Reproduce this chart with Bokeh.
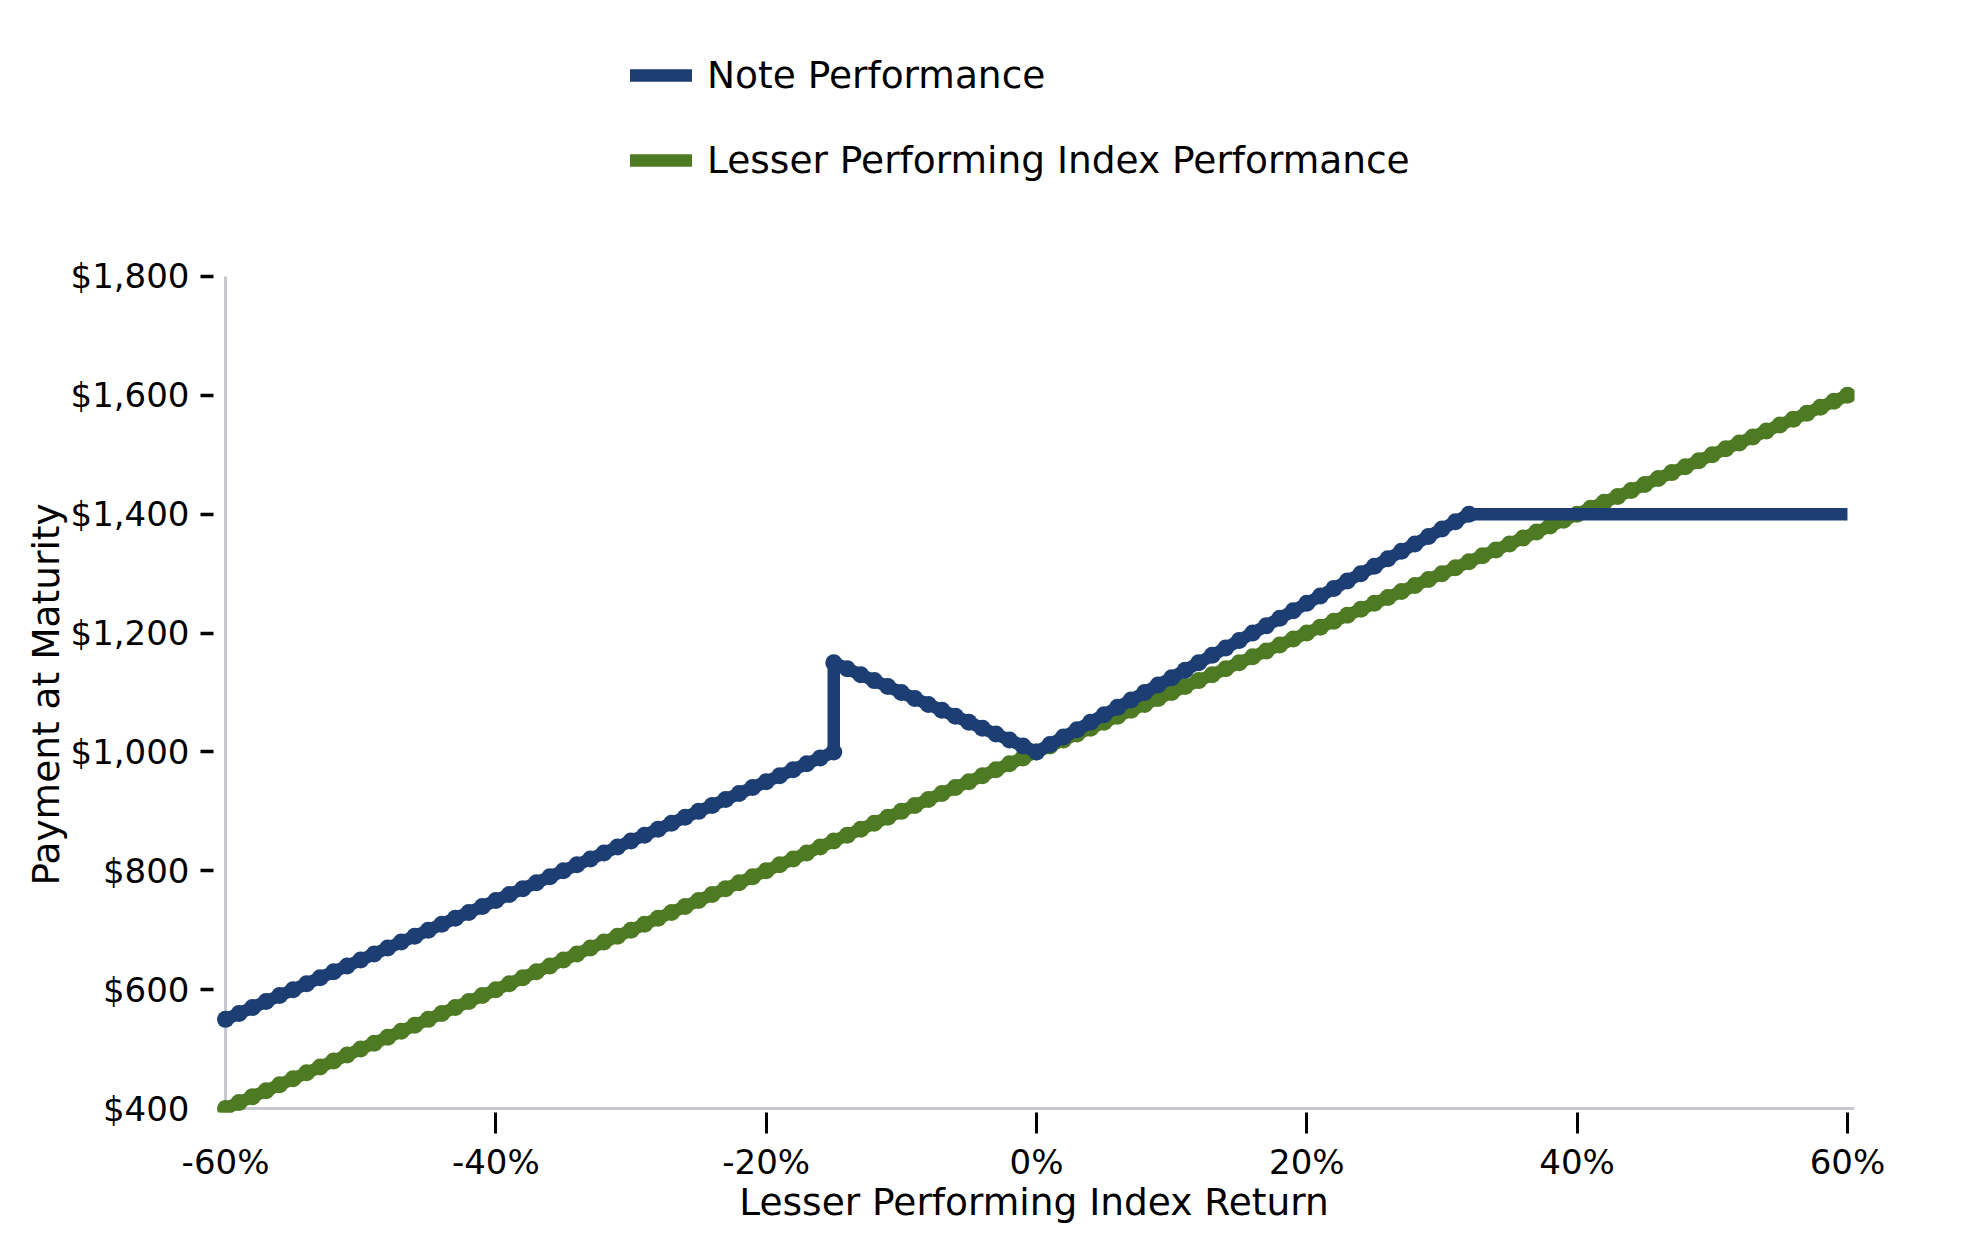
from bokeh.plotting import figure
from bokeh.models import (Range1d, FixedTicker, NumeralTickFormatter, PrintfTickFormatter,
                          Legend, LegendItem, ColumnDataSource, Title)
from bokeh.embed import file_html
from bokeh.resources import INLINE

# ---------------- data ----------------
index_return = [-60, -59, -58, -57, -56, -55, -54, -53, -52, -51, -50, -49, -48, -47, -46, -45,
                -44, -43, -42, -41, -40, -39, -38, -37, -36, -35, -34, -33, -32, -31, -30, -29,
                -28, -27, -26, -25, -24, -23, -22, -21, -20, -19, -18, -17, -16, -15, -14, -13,
                -12, -11, -10, -9, -8, -7, -6, -5, -4, -3, -2, -1, 0, 1, 2, 3, 4, 5, 6, 7, 8, 9,
                10, 11, 12, 13, 14, 15, 16, 17, 18, 19, 20, 21, 22, 23, 24, 25, 26, 27, 28, 29,
                30, 31, 32, 33, 34, 35, 36, 37, 38, 39, 40, 41, 42, 43, 44, 45, 46, 47, 48, 49,
                50, 51, 52, 53, 54, 55, 56, 57, 58, 59, 60]
index_payment = [400, 410, 420, 430, 440, 450, 460, 470, 480, 490, 500, 510, 520, 530, 540, 550,
                 560, 570, 580, 590, 600, 610, 620, 630, 640, 650, 660, 670, 680, 690, 700, 710,
                 720, 730, 740, 750, 760, 770, 780, 790, 800, 810, 820, 830, 840, 850, 860, 870,
                 880, 890, 900, 910, 920, 930, 940, 950, 960, 970, 980, 990, 1000, 1010, 1020,
                 1030, 1040, 1050, 1060, 1070, 1080, 1090, 1100, 1110, 1120, 1130, 1140, 1150,
                 1160, 1170, 1180, 1190, 1200, 1210, 1220, 1230, 1240, 1250, 1260, 1270, 1280,
                 1290, 1300, 1310, 1320, 1330, 1340, 1350, 1360, 1370, 1380, 1390, 1400, 1410,
                 1420, 1430, 1440, 1450, 1460, 1470, 1480, 1490, 1500, 1510, 1520, 1530, 1540,
                 1550, 1560, 1570, 1580, 1590, 1600]

note_return = [-60, -59, -58, -57, -56, -55, -54, -53, -52, -51, -50, -49, -48, -47, -46, -45,
               -44, -43, -42, -41, -40, -39, -38, -37, -36, -35, -34, -33, -32, -31, -30, -29,
               -28, -27, -26, -25, -24, -23, -22, -21, -20, -19, -18, -17, -16, -15,
               -15, -14, -13, -12, -11, -10, -9, -8, -7, -6, -5, -4, -3, -2, -1, 0,
               1, 2, 3, 4, 5, 6, 7, 8, 9, 10, 11, 12, 13, 14, 15, 16, 17, 18, 19, 20,
               21, 22, 23, 24, 25, 26, 27, 28, 29, 30, 31, 32]
note_payment = [550, 560, 570, 580, 590, 600, 610, 620, 630, 640, 650, 660, 670, 680, 690, 700,
                710, 720, 730, 740, 750, 760, 770, 780, 790, 800, 810, 820, 830, 840, 850, 860,
                870, 880, 890, 900, 910, 920, 930, 940, 950, 960, 970, 980, 990, 1000,
                1150, 1140, 1130, 1120, 1110, 1100, 1090, 1080, 1070, 1060, 1050, 1040, 1030,
                1020, 1010, 1000,
                1012.5, 1025, 1037.5, 1050, 1062.5, 1075, 1087.5, 1100, 1112.5, 1125, 1137.5,
                1150, 1162.5, 1175, 1187.5, 1200, 1212.5, 1225, 1237.5, 1250, 1262.5, 1275,
                1287.5, 1300, 1312.5, 1325, 1337.5, 1350, 1362.5, 1375, 1387.5, 1400]
# capped part of the note (flat line, no markers)
note_cap_return = [32, 60]
note_cap_payment = [1400, 1400]

x_ticks = [-60, -40, -20, 0, 20, 40, 60]
y_ticks = [400, 600, 800, 1000, 1200, 1400, 1600, 1800]

series_names = ["Note Performance", "Lesser Performing Index Performance"]
x_title = "Lesser Performing Index Return"
y_title = "Payment at Maturity"
NOTE_COLOR = "#1c3e73"
INDEX_COLOR = "#4d7a23"
SPINE_COLOR = "#c5c9cf"
FONT = "DejaVu Sans"

# ---------------- figure ----------------
x_start, x_end = -60.89, 60.52
y_start, y_end = 393.3, 2197.1   # upper part of the frame hosts the legend

p = figure(width=1971, height=1238, output_backend="svg", toolbar_location=None,
           x_range=Range1d(x_start, x_end), y_range=Range1d(y_start, y_end),
           min_border_left=213, min_border_right=117, min_border_top=40,
           min_border_bottom=126, outline_line_color=None, background_fill_color="white",
           border_fill_color="white")
p.xgrid.visible = False
p.ygrid.visible = False

# spines (light grey), drawn in data space
p.segment(x0=[x_ticks[0], x_ticks[0]], y0=[y_ticks[0], y_ticks[0]],
          x1=[x_ticks[0], x_end], y1=[y_ticks[-1], y_ticks[0]],
          line_color=SPINE_COLOR, line_width=3)

idx_src = ColumnDataSource(dict(x=index_return, y=index_payment))
note_src = ColumnDataSource(dict(x=note_return, y=note_payment))

g_line = p.line("x", "y", source=idx_src, line_color=INDEX_COLOR, line_width=12.5,
                line_cap="round", line_join="round")
p.scatter("x", "y", source=idx_src, size=17, fill_color=INDEX_COLOR, line_color=None)

n_line = p.line("x", "y", source=note_src, line_color=NOTE_COLOR, line_width=12.5,
                line_cap="round", line_join="round")
p.scatter("x", "y", source=note_src, size=17, fill_color=NOTE_COLOR, line_color=None)
p.line(note_cap_return, note_cap_payment, line_color=NOTE_COLOR, line_width=12.5,
       line_cap="butt", line_join="round")

# ---------------- axes ----------------
xa = p.xaxis[0]
xa.ticker = FixedTicker(ticks=x_ticks, minor_ticks=x_ticks[1:])
xa.formatter = PrintfTickFormatter(format="%d%%")
xa.axis_line_color = None
xa.major_tick_out = 0
xa.major_tick_in = 0
xa.minor_tick_out = 21
xa.minor_tick_in = 0
xa.minor_tick_line_color = "black"
xa.minor_tick_line_width = 3
xa.major_label_standoff = 8
xa.major_label_text_font = FONT
xa.major_label_text_font_size = "34px"
xa.major_label_text_color = "black"
xa.axis_label = x_title
xa.axis_label_text_font = FONT
xa.axis_label_text_font_size = "37.5px"
xa.axis_label_text_font_style = "normal"
xa.axis_label_text_color = "black"
xa.axis_label_standoff = -5

ya = p.yaxis[0]
ya.ticker = FixedTicker(ticks=y_ticks, minor_ticks=y_ticks[1:])
ya.formatter = NumeralTickFormatter(format="$0,0")
ya.axis_line_color = None
ya.major_tick_out = 0
ya.major_tick_in = 0
ya.minor_tick_out = 13
ya.minor_tick_in = 0
ya.minor_tick_line_color = "black"
ya.minor_tick_line_width = 3.5
ya.major_label_standoff = 11
ya.major_label_text_font = FONT
ya.major_label_text_font_size = "34px"
ya.major_label_text_color = "black"

# y-axis title, centred on the $400-$1,800 span (frame extends above for the legend)
ytitle = Title(text=y_title, align="left", offset=227, standoff=0,
               text_font=FONT, text_font_size="37.5px", text_font_style="normal",
               text_color="black")
p.add_layout(ytitle, "left")

# ---------------- legend ----------------
legend = Legend(items=[LegendItem(label=series_names[0], renderers=[n_line]),
                       LegendItem(label=series_names[1], renderers=[g_line])],
                location=(417, 930), orientation="vertical",
                padding=0, margin=0, spacing=41,
                glyph_width=62, glyph_height=44, label_height=44, label_standoff=15,
                label_text_font=FONT, label_text_font_size="37.5px",
                label_text_color="black",
                border_line_color=None, background_fill_alpha=0)
p.add_layout(legend)

open("out.html", "w").write(file_html(p, INLINE))
